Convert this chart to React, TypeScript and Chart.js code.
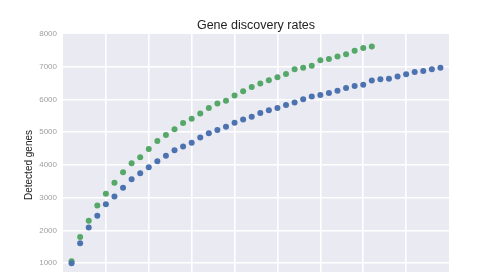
import React, { useEffect, useRef } from "react";
import { Chart, registerables } from "chart.js";

Chart.register(...registerables);

const titleText = "Gene discovery rates";
const yLabel = "Detected genes";

const blueX = [1,2,3,4,5,6,7,8,9,10,11,12,13,14,15,16,17,18,19,20,21,22,23,24,25,26,27,28,29,30,31,32,33,34,35,36,37,38,39,40,41,42,43,44];
const blueY = [1000,1610,2090,2450,2800,3035,3305,3565,3745,3935,4115,4280,4450,4563,4683,4841,4973,5072,5171,5290,5392,5470,5590,5670,5740,5830,5910,6010,6090,6140,6200,6270,6350,6410,6450,6580,6620,6630,6700,6770,6840,6870,6920,6970];

const greenX = [1,2,3,4,5,6,7,8,9,10,11,12,13,14,15,16,17,18,19,20,21,22,23,24,25,26,27,28,29,30,31,32,33,34,35,36];
const greenY = [1060,1800,2300,2760,3125,3460,3775,4055,4235,4490,4735,4913,5093,5281,5410,5572,5740,5880,5960,6120,6250,6385,6490,6590,6680,6780,6920,6970,7030,7200,7237,7310,7385,7490,7570,7620];

const yTicks = [0,1000,2000,3000,4000,5000,6000,7000,8000];

const bgPlugin = {
  id: "plotBg",
  beforeDraw(chart: any) {
    const { ctx, chartArea } = chart;
    ctx.save();
    ctx.fillStyle = "#EAEAF2";
    ctx.fillRect(chartArea.left, chartArea.top, chartArea.right - chartArea.left, chartArea.bottom - chartArea.top);
    ctx.restore();
  },
};

export default function App() {
  const ref = useRef<HTMLCanvasElement>(null);
  useEffect(() => {
    if (!ref.current) return;
    const chart = new Chart(ref.current, {
      type: "scatter",
      data: {
        datasets: [
          {
            label: "blue",
            data: blueX.map((x, i) => ({ x, y: blueY[i] })),
            backgroundColor: "#4C72B0",
            borderWidth: 0,
            pointRadius: 3,
          },
          {
            label: "green",
            data: greenX.map((x, i) => ({ x, y: greenY[i] })),
            backgroundColor: "#55A868",
            borderWidth: 0,
            pointRadius: 3,
          },
        ],
      },
      options: {
        animation: false,
        responsive: false,
        maintainAspectRatio: false,
        layout: { padding: { left: 0, right: 51, top: 0, bottom: 0 } },
        plugins: {
          legend: { display: false },
          tooltip: { enabled: false },
          title: {
            display: true,
            text: titleText,
            fullSize: false,
            color: "#222",
            font: { family: "Liberation Sans, Arial, sans-serif", size: 12.5, weight: "normal" },
            padding: { top: 18, bottom: 1 },
          },
        },
        scales: {
          x: {
            type: "linear",
            min: 0,
            max: 45,
            ticks: { display: false, stepSize: 5 },
            border: { display: false },
            grid: {
              drawTicks: false,
              lineWidth: 1.6,
              color: (c: any) => (c.tick && (c.tick.value === 0 || c.tick.value === 45) ? "rgba(0,0,0,0)" : "#FFFFFF"),
            },
          },
          y: {
            type: "linear",
            min: 0,
            max: 8000,
            afterBuildTicks: (scale: any) => {
              scale.ticks = yTicks.map((v) => ({ value: v }));
            },
            afterFit: (scale: any) => {
              scale.width = 63;
              scale.paddingTop = 0;
              scale.paddingBottom = 0;
            },
            ticks: {
              color: "#a0a0a0",
              padding: 6,
              font: { family: "Liberation Sans, Arial, sans-serif", size: 8 },
              callback: (v: any) => String(v),
            },
            border: { display: false },
            grid: {
              drawTicks: false,
              lineWidth: 1.6,
              color: (c: any) => (c.tick && (c.tick.value === 8000 || c.tick.value === 0) ? "rgba(0,0,0,0)" : "#FFFFFF"),
            },
            title: {
              display: true,
              text: yLabel,
              color: "#222",
              font: { family: "Liberation Sans, Arial, sans-serif", size: 10 },
              padding: { top: 23, bottom: 0 },
            },
          },
        },
      },
      plugins: [bgPlugin],
    });
    return () => chart.destroy();
  }, []);
  return (
    <div style={{ position: "fixed", left: 0, top: 0, width: 500, height: 272, overflow: "hidden", background: "#fff" }}>
      <canvas ref={ref} width={500} height={300} style={{ display: "block" }} />
    </div>
  );
}
